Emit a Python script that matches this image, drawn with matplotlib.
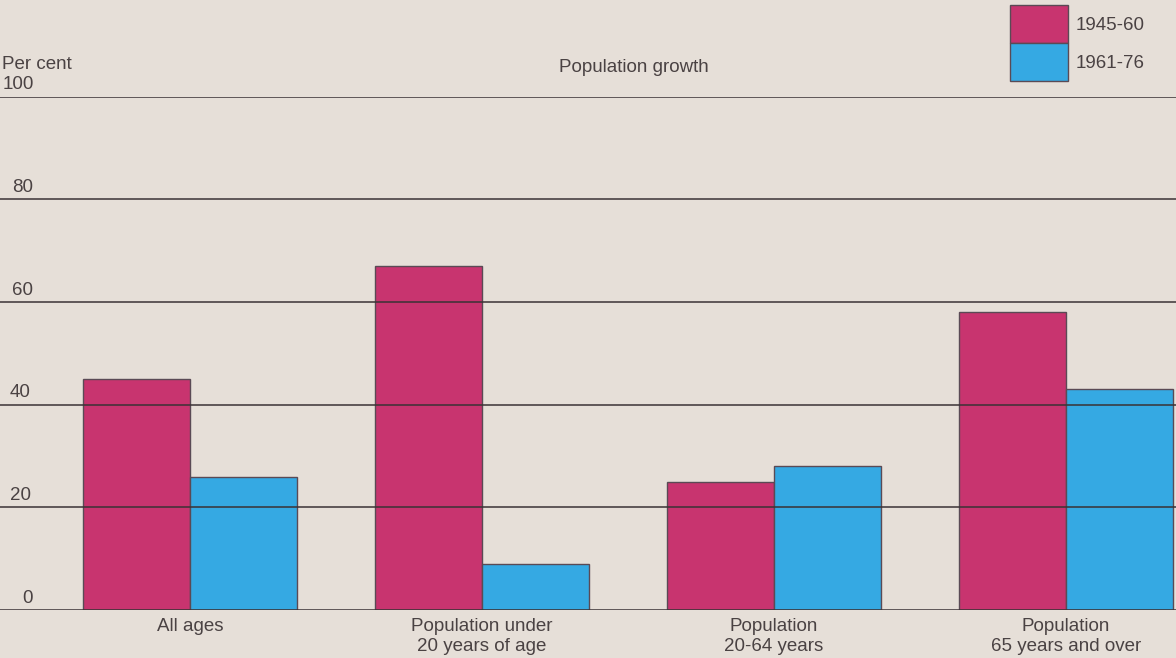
import matplotlib
matplotlib.use("Agg")
import matplotlib.pyplot as plt
import matplotlib.transforms as mtransforms
import numpy as np
from matplotlib.patches import Patch

# data
categories = ["All ages", "Population under\n20 years of age",
              "Population\n20-64 years", "Population\n65 years and over"]
growth_1945_60 = [45, 67, 25, 58]
growth_1961_76 = [26, 9, 28, 43]
series_labels = ["1945-60", "1961-76"]
ticks = [0, 20, 40, 60, 80, 100]

bg = "#e6dfd8"
magenta = "#c8346f"
blue = "#35a9e3"
text_c = "#4a4243"
edge_c = "#5a4a55"
fs = 13.5

plt.rcParams['font.family'] = ['Liberation Sans', 'DejaVu Sans']

fig = plt.figure(figsize=(11.76, 6.58), dpi=100, facecolor=bg)
ax = fig.add_axes([0, 0.073, 1, 0.78])
ax.set_facecolor(bg)

x = np.arange(len(categories))
w = 0.366
ax.bar(x - w / 2, growth_1945_60, w, color=magenta, edgecolor=edge_c, linewidth=1, zorder=2)
ax.bar(x + w / 2, growth_1961_76, w, color=blue, edgecolor=edge_c, linewidth=1, zorder=2)

# gridlines run over the bars, labels sit just above each line
trans = mtransforms.blended_transform_factory(ax.transAxes, ax.transData)
label_x = {0: 22, 20: 10, 40: 10, 60: 12, 80: 12, 100: 3}
for t in ticks:
    ax.axhline(t, color="#3a3235", lw=1.1, zorder=3)
    ax.text(label_x[t] / 1176, t + 2.3, str(t), transform=trans,
            fontsize=fs, color=text_c, ha="left", va="center", zorder=4)

ax.text(2 / 1176, 106.2, "Per cent", transform=trans, fontsize=fs, color=text_c,
        ha="left", va="center")
ax.text(634 / 1176, 105.6, "Population growth", transform=trans, fontsize=fs,
        color=text_c, ha="center", va="center")

ax.set_xlim(-0.65, 3.377)
ax.set_ylim(0, 100)
for s in ax.spines.values():
    s.set_visible(False)
ax.set_xticks(x)
ax.set_xticklabels(categories, fontsize=fs, color=text_c, linespacing=1.22)
ax.tick_params(axis="x", length=0, pad=6)
ax.set_yticks([])

handles = [Patch(facecolor=magenta, edgecolor=edge_c), Patch(facecolor=blue, edgecolor=edge_c)]
fig.legend(handles, series_labels, loc="upper left", bbox_to_anchor=(1010 / 1176, 1 - 5 / 658),
           frameon=False, fontsize=fs, handlelength=3.1, handleheight=2.75,
           labelspacing=0.0, handletextpad=0.4, labelcolor=text_c, borderpad=0.0,
           borderaxespad=0.0)

fig.savefig("out.png", dpi=100, facecolor=bg)
